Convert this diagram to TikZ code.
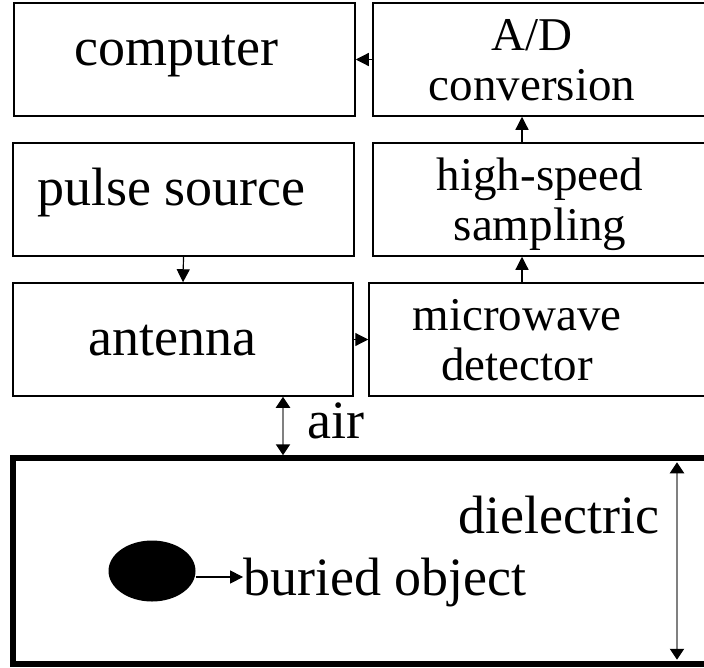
\documentclass[tikz,border=0pt]{standalone}
\usepackage{fontspec}
\setmainfont{Liberation Serif}
\usetikzlibrary{arrows.meta, shapes.geometric, calc}

\begin{document}
\begin{tikzpicture}[
    x=1pt, y=-1pt,
    box/.style={rectangle, draw=black, line width=1.5pt, minimum height=113pt, inner sep=0pt},
    big/.style={font=\fontsize{54}{58}\selectfont, inner sep=0pt},
    twoline/.style={font=\fontsize{47}{50}\selectfont, align=center, inner sep=0pt},
    flow/.style={-{Triangle[length=13pt, width=13pt]}, draw=black, line width=1.2pt},
    gauge/.style={{Triangle[length=11pt, width=14pt, color=black]}-{Triangle[length=11pt, width=14pt, color=black]}, draw=gray, line width=2.2pt},
]
\useasboundingbox (0,0) rectangle (704,667);
\clip (0,0) rectangle (704,667);
% BLOCKS
\node[box, minimum width=341pt] (comp) at (184.5,59.5) {};
\node[box, minimum width=387pt] (adc) at (566.5,59.5) {};
\node[box, minimum width=341pt] (pulse) at (183.5,199.5) {};
\node[box, minimum width=387pt] (samp) at (566.5,199.5) {};
\node[box, minimum width=340pt] (ant) at (183,339.5) {};
\node[box, minimum width=391pt] (det) at (564.5,339.5) {};
\node[box, line width=5.5pt, minimum width=747pt, minimum height=206pt] (diel) at (386.5,561) {};
% TEXTS (base = last line)
\node[big, anchor=base] (compT) at (176,65) {computer};
\node[twoline, anchor=base] (adcT) at (532,100) {A/D\\conversion};
\node[big, anchor=base] (pulseT) at (171.5,205) {pulse source};
\node[twoline, anchor=base] (sampT) at (540,240) {high-speed\\sampling};
\node[big, anchor=base] (antT) at (172,355) {antenna};
\node[twoline, anchor=base] (detT) at (517,380) {microwave\\detector};
\node[big, anchor=base] (airT) at (336,438) {air};
\node[big, anchor=base] (dielT) at (559,533) {dielectric};
\node[big, anchor=base] (objT) at (385,595) {buried object};
\node[ellipse, fill=black, minimum width=87pt, minimum height=61pt, inner sep=0pt] (obj) at (152,571) {};
% CONNECTORS
\coordinate (tapx) at (522,250);
\coordinate (airx) at (283,420);
\coordinate (dielx) at (677,560);
\coordinate (objtap) at ([yshift=-6pt]obj.east);
\draw[flow] (adc.west) -- (comp.east);
\draw[flow] (samp.north -| tapx) -- (adc.south -| tapx);
\draw[flow] (pulse.south) -- (ant.north);
\draw[flow] (det.north -| tapx) -- (samp.south -| tapx);
\draw[flow] (ant.east) -- (det.west);
\draw[flow] (objtap) -- (objtap -| objT.west);
\draw[gauge] (ant.south -| airx) -- (diel.north -| airx);
\draw[gauge, shorten <=7pt, shorten >=7pt] (diel.north -| dielx) -- (diel.south -| dielx);
\end{tikzpicture}
\end{document}
